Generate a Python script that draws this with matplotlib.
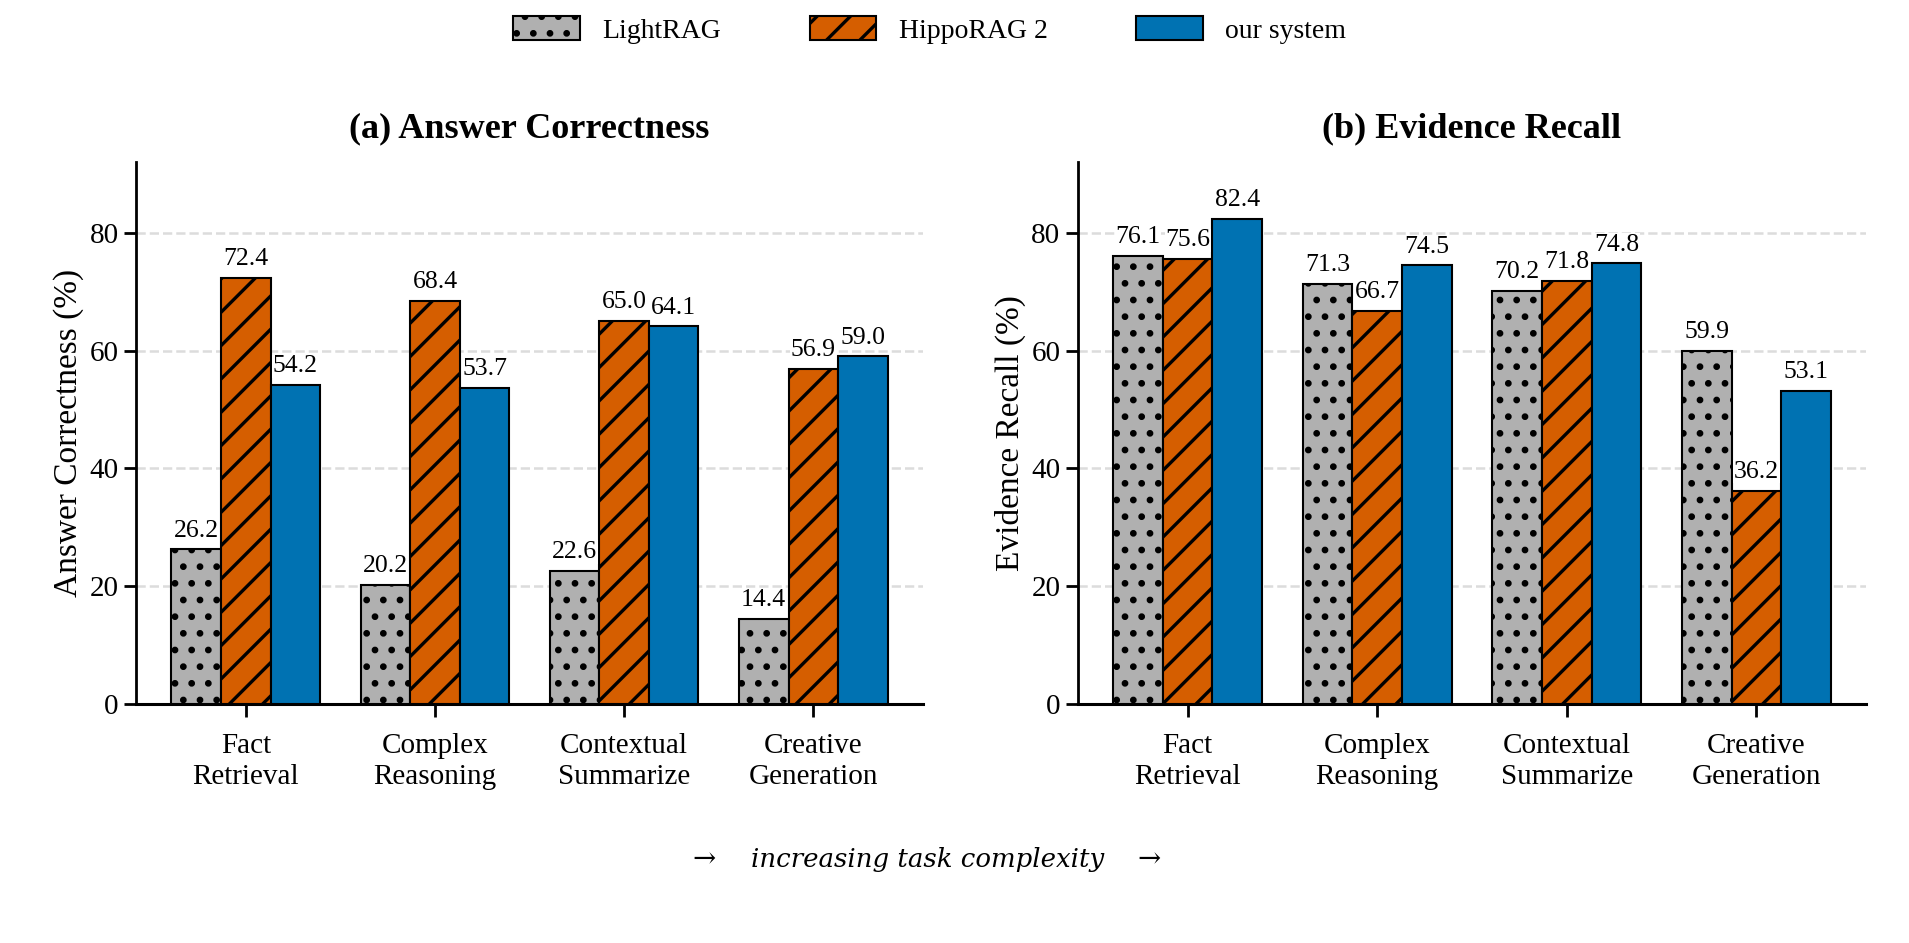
import matplotlib.pyplot as plt
import numpy as np

plt.rcParams['font.family'] = ['Liberation Serif', 'DejaVu Serif']
plt.rcParams['hatch.linewidth'] = 2.4

# data
tasks = ["Fact\nRetrieval", "Complex\nReasoning", "Contextual\nSummarize", "Creative\nGeneration"]
systems = ["LightRAG", "HippoRAG 2", "our system"]
correctness = {
    "LightRAG": [26.2, 20.2, 22.6, 14.4],
    "HippoRAG 2": [72.4, 68.4, 65.0, 56.9],
    "our system": [54.2, 53.7, 64.1, 59.0],
}
recall = {
    "LightRAG": [76.1, 71.3, 70.2, 59.9],
    "HippoRAG 2": [75.6, 66.7, 71.8, 36.2],
    "our system": [82.4, 74.5, 74.8, 53.1],
}

colors = ["#b0b0b0", "#d55e00", "#0072b2"]
hatches = [".", "/", ""]

fig = plt.figure(figsize=(19.09, 9.43), dpi=100)
ax1 = fig.add_axes([0.0713, 0.2538, 0.4122, 0.5742])
ax2 = fig.add_axes([0.5645, 0.2538, 0.4132, 0.5742])

x = np.arange(len(tasks))
w = 0.262

def draw(ax, data, title, ylabel):
    for i, s in enumerate(systems):
        vals = data[s]
        bars = ax.bar(x + (i - 1) * w, vals, w, color=colors[i], hatch=hatches[i],
                      edgecolor="black", linewidth=1.5, label=s, zorder=3)
        for b, v in zip(bars, vals):
            ax.text(b.get_x() + b.get_width() / 2, v + 1.3, f"{v:.1f}", ha="center",
                    va="bottom", fontsize=18.5, zorder=4,
                    bbox=dict(facecolor="white", edgecolor="none", pad=0.3))
    ax.set_ylim(0, 92)
    ax.set_xlim(-0.58, 3.58)
    ax.set_yticks([0, 20, 40, 60, 80])
    ax.set_xticks(x)
    ax.set_xticklabels(tasks, fontsize=21, linespacing=1.25)
    ax.tick_params(axis="y", labelsize=21, width=2, length=9)
    ax.tick_params(axis="x", width=2, length=9, pad=12)
    ax.set_ylabel(ylabel, fontsize=24)
    ax.set_title(title, fontsize=26, fontweight="bold", pad=18)
    ax.grid(axis="y", linestyle="--", color="#dcdcdc", linewidth=1.8, zorder=0)
    ax.spines["top"].set_visible(False)
    ax.spines["right"].set_visible(False)
    ax.spines["left"].set_linewidth(2)
    ax.spines["bottom"].set_linewidth(2.2)

draw(ax1, correctness, "(a) Answer Correctness", "Answer Correctness (%)")
draw(ax2, recall, "(b) Evidence Recall", "Evidence Recall (%)")

handles, labels = ax1.get_legend_handles_labels()
fig.legend(handles, labels, loc="upper center", ncol=3, frameon=False, fontsize=20,
           bbox_to_anchor=(0.487, 1.01), handlelength=2.4, handleheight=1.0, columnspacing=3.2)

fig.text(0.486, 0.0885, "increasing task complexity", ha="center",
         va="center", fontsize=18.7, style="italic", family=["DejaVu Serif"])
fig.text(0.3686, 0.0885, "→", ha="center", va="center", fontsize=20, family=["DejaVu Serif"])
fig.text(0.602, 0.0885, "→", ha="center", va="center", fontsize=20, family=["DejaVu Serif"])

plt.savefig("out.png", dpi=100)
